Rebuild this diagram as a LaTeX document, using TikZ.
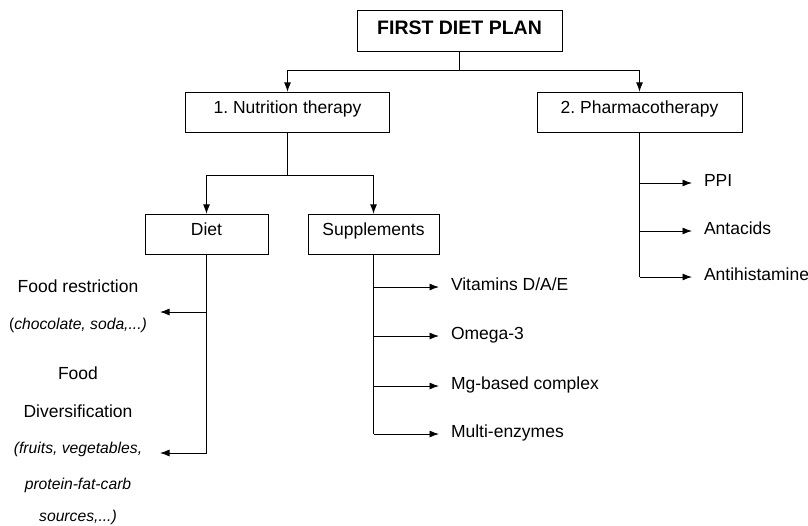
\documentclass[tikz,border=0pt]{standalone}
\usepackage{fontspec}
\setmainfont{Liberation Sans}
\usepackage{tikz}
\usetikzlibrary{positioning,arrows.meta,calc}
\frenchspacing

\begin{document}
\begin{tikzpicture}[x=1pt, y=-1pt, line width=0.9pt,
    >={Latex[length=9.5pt,width=7pt]},
    box/.style={draw, inner sep=0pt, text height=21.5pt, text depth=19pt,
      font=\fontsize{17.5}{21}\selectfont},
    item/.style={inner sep=0pt, outer xsep=12pt, anchor=base west,
      font=\fontsize{17.5}{21}\selectfont},
    note/.style={inner sep=0pt, anchor=base, font=\fontsize{17.5}{21}\selectfont},
    remark/.style={inner sep=0pt, anchor=base, font=\fontsize{15.7}{19}\selectfont\itshape}]
      \useasboundingbox (0,0) rectangle (808,525);
      \def \trunk {373.5} % x of the supplements line
      \def \drug {639.5}  % x of the pharmacotherapy line

      \node[box, minimum width=205pt, text height=24pt, text depth=17pt,
        font=\fontsize{19.5}{23}\selectfont\bfseries] (plan) at (459.5,30.5) {FIRST DIET PLAN};
      \node[box, minimum width=204pt] (nutri) at (287.5,112.5) {1. Nutrition therapy};
      \node[box, minimum width=205pt] (pharma) at (\drug,112.5) {2. Pharmacotherapy};
      \node[box, minimum width=123pt] (diet) at (206.5,234.5) {Diet};
      \node[box, minimum width=131pt] (suppl) at (\trunk,234.5) {Supplements};

      % first level
      \coordinate (split) at (459.5,70.5);
      \draw (plan) -- (split);
      \draw[->] (split) -| (nutri);
      \draw[->] (split) -| (pharma);

      % nutrition therapy
      \coordinate (split2) at (287.5,175);
      \draw (nutri) -- (split2);
      \draw[->] (split2) -| (diet);
      \draw[->] (split2) -| (suppl);

      % diet, texts on the left
      \node[note] (restr) at (78,292) {Food restriction};
      \node[remark] (restrex) at (78,329) {\textup{(}chocolate, soda,...)};
      \node[note] (divers1) at (78,379) {Food};
      \node[note] (divers2) at (78,417) {Diversification};
      \node[remark] (diversex1) at (78,453) {(fruits, vegetables,};
      \node[remark] (diversex2) at (78,489) {protein-fat-carb};
      \node[remark] (diversex3) at (78,521.5) {sources,...)};
      \coordinate (d1) at (206.5,312);
      \coordinate (fr) at (160,312);
      \coordinate (fd) at (160,453);
      \draw[->] (diet) |- (fd);
      \draw[->] (d1) -- (fr);

      % supplements
      \foreach \y/\name/\txt in {287/vit/{Vitamins D/A/E}, 336/omega/Omega-3,
                                 386/mg/Mg-based complex, 434/enz/Multi-enzymes}
               {
                 \coordinate (s-\name) at (\trunk,\y);
                 \node[item] (\name) at (439,\y+3) {\txt};
                 \draw[->] (s-\name) -- (s-\name -| \name.west);
               }
      \draw (suppl) -- (s-enz);

      % pharmacotherapy
      \foreach \y/\name/\txt in {183/ppi/PPI, 231/antac/Antacids, 277/antih/Antihistamine}
               {
                 \coordinate (p-\name) at (\drug,\y);
                 \node[item] (\name) at (692,\y+3) {\txt};
                 \draw[->] (p-\name) -- (p-\name -| \name.west);
               }
      \draw (pharma) -- (p-antih);
    \end{tikzpicture}
\end{document}
